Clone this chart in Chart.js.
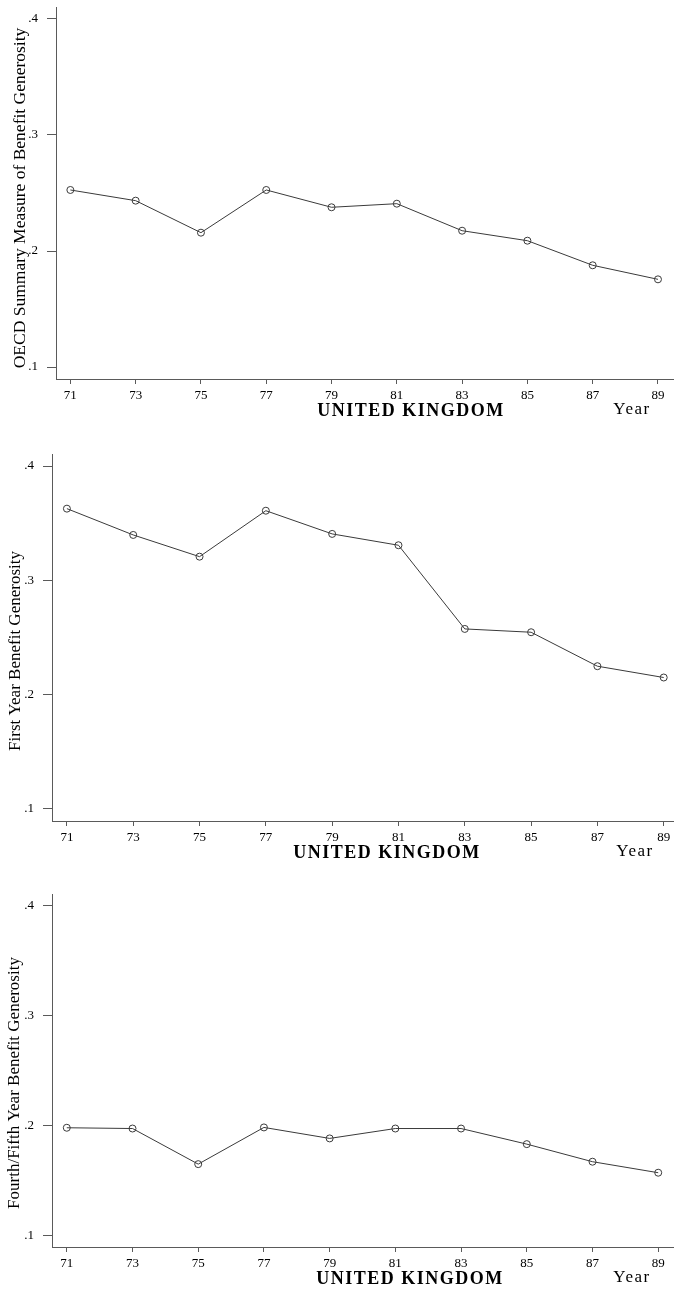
<!DOCTYPE html>
<html>
<head>
<meta charset="utf-8">
<script src="https://cdn.jsdelivr.net/npm/chart.js@4/dist/chart.umd.min.js"></script>
<style>
  html, body { margin: 0; padding: 0; background: #fff; }
  .panel { position: absolute; left: 0; width: 678px; }
</style>
</head>
<body>
<div class="panel" style="top:0;height:420px"><canvas id="c1"></canvas></div>
<div class="panel" style="top:420px;height:440px"><canvas id="c2"></canvas></div>
<div class="panel" style="top:860px;height:433px"><canvas id="c3"></canvas></div>
<script>
// data
const years = [71, 73, 75, 77, 79, 81, 83, 85, 87, 89];
const oecdSummary = [0.2526, 0.2434, 0.2158, 0.2526, 0.2377, 0.2408, 0.2175, 0.2089, 0.1877, 0.1756];
const firstYear = [0.3627, 0.3397, 0.3207, 0.3609, 0.3406, 0.3307, 0.2575, 0.2546, 0.2249, 0.2150];
const fourthFifthYear = [0.1982, 0.1975, 0.1651, 0.1985, 0.1885, 0.1975, 0.1975, 0.1833, 0.1673, 0.1573];
const yTicks = [0.1, 0.2, 0.3, 0.4];
const yTickLabels = [".1", ".2", ".3", ".4"];
const countryLabel = "UNITED KINGDOM";
const xLabel = "Year";

const serif = "'Liberation Serif', 'Times New Roman', serif";
const axisGray = "#5a5a5a";

// draws the rotated y title and the two labels under the x axis
const labelsPlugin = {
  id: "panelLabels",
  afterDraw(chart, args, opts) {
    const ctx = chart.ctx;
    const area = chart.chartArea;
    ctx.save();
    ctx.fillStyle = "#000";
    ctx.textAlign = "center";
    ctx.textBaseline = "middle";

    ctx.save();
    ctx.translate(opts.titleX, opts.titleY);
    ctx.rotate(-Math.PI / 2);
    ctx.font = opts.titleSize + "px " + serif;
    ctx.fillText(opts.title, 0, 0);
    ctx.restore();

    ctx.font = "bold 18px " + serif;
    ctx.letterSpacing = "1.5px";
    ctx.fillText(countryLabel, opts.countryX, area.bottom + 32);
    ctx.font = "17px " + serif;
    ctx.letterSpacing = "1.5px";
    ctx.fillText(xLabel, opts.yearX, area.bottom + 31);
    ctx.restore();
  }
};

function makeChart(id, values, p) {
  const ctx = document.getElementById(id).getContext("2d");
  return new Chart(ctx, {
    type: "line",
    data: {
      datasets: [{
        data: years.map((y, i) => ({ x: y, y: values[i] })),
        borderColor: "#3a3a3a",
        borderWidth: 1,
        pointRadius: 3.5,
        pointBorderWidth: 1,
        pointBorderColor: "#3a3a3a",
        pointBackgroundColor: "rgba(0,0,0,0)",
        tension: 0
      }]
    },
    options: {
      responsive: true,
      maintainAspectRatio: false,
      animation: false,
      events: [],
      layout: { padding: { top: p.top, right: p.right, left: 0, bottom: 0 } },
      plugins: {
        legend: { display: false },
        tooltip: { enabled: false },
        panelLabels: p
      },
      scales: {
        x: {
          type: "linear",
          min: p.xMin,
          max: p.xMax,
          afterBuildTicks: s => { s.ticks = years.map(v => ({ value: v })); },
          afterFit: s => { s.height = p.xHeight; s.paddingLeft = 0; s.paddingRight = 0; },
          grid: { drawOnChartArea: false, drawTicks: true, tickLength: 5, color: axisGray },
          border: { display: true, color: axisGray, width: 1 },
          ticks: {
            font: { family: serif, size: 13 },
            color: "#000",
            padding: 4,
            maxRotation: 0,
            callback: v => String(v)
          }
        },
        y: {
          type: "linear",
          min: p.yMin,
          max: p.yMax,
          afterBuildTicks: s => { s.ticks = yTicks.map(v => ({ value: v })); },
          afterFit: s => { s.width = p.yWidth; s.paddingTop = 0; s.paddingBottom = 0; },
          grid: { drawOnChartArea: false, drawTicks: true, tickLength: 9, color: axisGray },
          border: { display: true, color: axisGray, width: 1 },
          ticks: {
            font: { family: serif, size: 13 },
            color: "#000",
            padding: 9,
            callback: v => yTickLabels[yTicks.findIndex(t => Math.abs(t - v) < 1e-6)]
          }
        }
      }
    },
    plugins: [labelsPlugin]
  });
}

makeChart("c1", oecdSummary, {
  top: 7, right: 0, yWidth: 56, xHeight: 41,
  xMin: 70.56, xMax: 89.46, yMin: 0.0897, yMax: 0.4103,
  title: "OECD Summary Measure of Benefit Generosity", titleSize: 17.5, titleX: 20, titleY: 198,
  countryX: 411, yearX: 632
});
makeChart("c2", firstYear, {
  top: 34, right: 3, yWidth: 52, xHeight: 39,
  xMin: 70.55, xMax: 89.28, yMin: 0.0895, yMax: 0.4105,
  title: "First Year Benefit Generosity", titleSize: 17, titleX: 16, titleY: 231,
  countryX: 387, yearX: 635
});
makeChart("c3", fourthFifthYear, {
  top: 34, right: 0, yWidth: 52, xHeight: 46,
  xMin: 70.55, xMax: 89.45, yMin: 0.0897, yMax: 0.4109,
  title: "Fourth/Fifth Year Benefit Generosity", titleSize: 17, titleX: 15, titleY: 223,
  countryX: 410, yearX: 632
});
</script>
</body>
</html>
